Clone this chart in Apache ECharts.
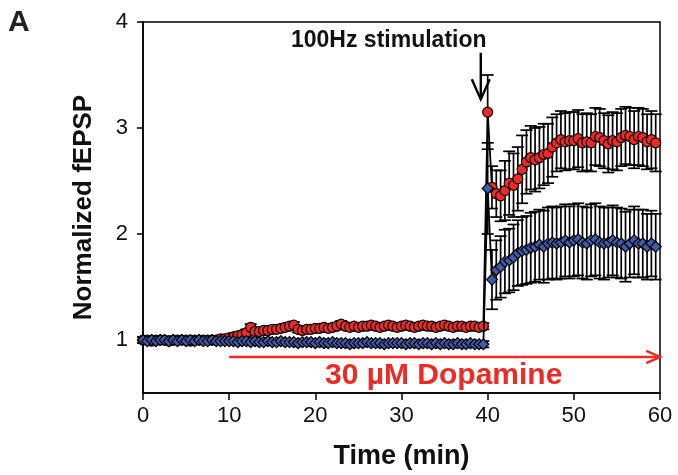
<!DOCTYPE html>
<html>
<head>
<meta charset="UTF-8">
<title>Normalized fEPSP</title>
<script src="https://cdn.jsdelivr.net/npm/echarts@6/dist/echarts.min.js"></script>
<style>
  html, body { margin: 0; padding: 0; background: #fff; }
  #chart { width: 678px; height: 475px; }
</style>
</head>
<body>
<div id="chart"></div>
<script>
// sampling: every 0.5 min, 0 .. 59.5
var step = 0.5;

// dopamine group (red circles)
var redMean = [
  1.00,1.00,0.99,1.00,1.00,1.00,0.99,1.00,1.00,1.00, 1.00,0.99,1.00,1.00,1.00,1.00,1.00,1.00,1.01,1.01,
  1.02,1.03,1.04,1.05,1.07,1.12,1.08,1.08,1.09,1.09, 1.10,1.10,1.11,1.12,1.13,1.14,1.10,1.09,1.10,1.10,
  1.11,1.11,1.12,1.11,1.12,1.13,1.15,1.13,1.12,1.13, 1.12,1.13,1.13,1.14,1.13,1.12,1.13,1.14,1.13,1.12,
  1.13,1.14,1.13,1.12,1.13,1.14,1.13,1.13,1.12,1.13, 1.14,1.13,1.12,1.13,1.13,1.12,1.13,1.13,1.12,1.13,
  3.15,
  2.44,2.38,2.36,2.41,2.48,2.46,2.52,2.61,2.68,2.72, 2.70,2.72,2.75,2.76,2.82,2.86,2.89,2.87,2.88,
  2.88,2.90,2.86,2.87,2.86,2.92,2.91,2.88,2.85,2.88, 2.87,2.91,2.93,2.92,2.89,2.92,2.91,2.87,2.89,2.86
];
var redSem = [
  0.03,0.03,0.03,0.03,0.03,0.03,0.03,0.03,0.03,0.03, 0.03,0.03,0.03,0.03,0.03,0.03,0.03,0.03,0.03,0.03,
  0.03,0.03,0.03,0.03,0.03,0.03,0.03,0.03,0.03,0.03, 0.03,0.03,0.03,0.03,0.03,0.03,0.03,0.03,0.03,0.03,
  0.03,0.03,0.03,0.03,0.03,0.03,0.03,0.03,0.03,0.03, 0.03,0.03,0.03,0.03,0.03,0.03,0.03,0.03,0.03,0.03,
  0.03,0.03,0.03,0.03,0.03,0.03,0.03,0.03,0.03,0.03, 0.03,0.03,0.03,0.03,0.03,0.03,0.03,0.03,0.03,0.03,
  0.35,
  0.20,0.22,0.24,0.28,0.30,0.30,0.30,0.32,0.30,0.30, 0.30,0.29,0.29,0.28,0.28,0.27,0.27,0.27,0.27,
  0.27,0.27,0.27,0.27,0.27,0.27,0.27,0.26,0.27,0.27, 0.27,0.27,0.27,0.27,0.27,0.27,0.27,0.26,0.27,0.27
];

// control group (blue diamonds)
var blueMean = [
  1.00,0.99,1.00,0.99,1.00,1.00,0.99,1.00,0.99,1.00, 0.99,1.00,0.99,1.00,0.99,0.99,1.00,0.99,0.99,0.99,
  0.99,0.99,0.98,0.99,0.99,0.98,0.99,0.98,0.98,0.99, 0.98,0.98,0.99,0.98,0.98,0.98,0.97,0.98,0.98,0.98,
  0.97,0.98,0.97,0.97,0.98,0.97,0.97,0.97,0.96,0.97, 0.97,0.97,0.98,0.97,0.97,0.97,0.96,0.97,0.97,0.97,
  0.97,0.96,0.97,0.97,0.96,0.97,0.97,0.96,0.97,0.96, 0.97,0.96,0.96,0.97,0.96,0.96,0.97,0.96,0.96,0.96,
  2.43,
  1.57,1.66,1.69,1.74,1.75,1.78,1.82,1.84,1.85,1.87, 1.88,1.90,1.88,1.91,1.92,1.91,1.92,1.94,1.92,
  1.94,1.95,1.92,1.91,1.94,1.95,1.92,1.91,1.92,1.94, 1.92,1.91,1.88,1.91,1.94,1.91,1.91,1.88,1.91,1.88
];
var blueSem = [
  0.03,0.03,0.03,0.03,0.03,0.03,0.03,0.03,0.03,0.03, 0.03,0.03,0.03,0.03,0.03,0.03,0.03,0.03,0.03,0.03,
  0.03,0.03,0.03,0.03,0.03,0.03,0.03,0.03,0.03,0.03, 0.03,0.03,0.03,0.03,0.03,0.03,0.03,0.03,0.03,0.03,
  0.03,0.03,0.03,0.03,0.03,0.03,0.03,0.03,0.03,0.03, 0.03,0.03,0.03,0.03,0.03,0.03,0.03,0.03,0.03,0.03,
  0.03,0.03,0.03,0.03,0.03,0.03,0.03,0.03,0.03,0.03, 0.03,0.03,0.03,0.03,0.03,0.03,0.03,0.03,0.03,0.03,
  0.43,
  0.28,0.28,0.29,0.30,0.30,0.31,0.31,0.32,0.32,0.33, 0.33,0.33,0.34,0.34,0.34,0.34,0.34,0.34,0.34,
  0.34,0.34,0.34,0.34,0.34,0.34,0.34,0.34,0.33,0.33, 0.33,0.33,0.33,0.32,0.32,0.32,0.32,0.31,0.31,0.31
];

var xTicks = [0, 10, 20, 30, 40, 50, 60];
var yTicks = [1, 2, 3, 4];

// annotation arrows (data coordinates)
var dopamineArrow = [[10, 0.84], [60, 0.84]];
var stimArrow = [[39.2, 3.71], [39.2, 3.27]];

var RED = '#ee2a24';
var BLUE = '#3d5ba8';

function points(mean) {
  return mean.map(function (v, i) { return [i * step, v]; });
}
function errPoints(mean, sem) {
  return mean.map(function (v, i) { return [i * step, v, sem[i]]; });
}

function renderErr(params, api) {
  var x = api.value(0), m = api.value(1), s = api.value(2);
  var top = api.coord([x, m + s]);
  var bot = api.coord([x, m - s]);
  var w = 6;
  var st = { stroke: '#000', lineWidth: 1.7 };
  return {
    type: 'group',
    children: [
      { type: 'line', shape: { x1: top[0], y1: top[1], x2: bot[0], y2: bot[1] }, style: st },
      { type: 'line', shape: { x1: top[0] - w, y1: top[1], x2: top[0] + w, y2: top[1] }, style: st },
      { type: 'line', shape: { x1: bot[0] - w, y1: bot[1], x2: bot[0] + w, y2: bot[1] }, style: st }
    ]
  };
}

function arrowRenderer(pts, color, width, head) {
  return function (params, api) {
    var a = api.coord(pts[0]);
    var b = api.coord(pts[1]);
    var ang = Math.atan2(b[1] - a[1], b[0] - a[0]);
    var h1 = [b[0] - head * Math.cos(ang - 0.42), b[1] - head * Math.sin(ang - 0.42)];
    var h2 = [b[0] - head * Math.cos(ang + 0.42), b[1] - head * Math.sin(ang + 0.42)];
    var st = { stroke: color, lineWidth: width, fill: null };
    return {
      type: 'group',
      children: [
        { type: 'line', shape: { x1: a[0], y1: a[1], x2: b[0], y2: b[1] }, style: st },
        { type: 'polyline', shape: { points: [h1, b, h2] }, style: st }
      ]
    };
  };
}

var chart = echarts.init(document.getElementById('chart'), null, { renderer: 'canvas' });

chart.setOption({
  backgroundColor: '#fff',
  animation: false,
  textStyle: { fontFamily: 'Liberation Sans, Arial, sans-serif' },
  grid: {
    left: 143, right: 18, top: 22, bottom: 82,
    show: true, borderColor: '#000', borderWidth: 1.5
  },
  xAxis: {
    type: 'value',
    min: 0, max: 60, interval: 10,
    splitLine: { show: false },
    axisLine: { lineStyle: { color: '#000', width: 1.5 } },
    axisTick: { show: true, length: 7, lineStyle: { color: '#000', width: 1.5 } },
    axisLabel: {
      color: '#111', fontSize: 22, margin: 12,
      customValues: xTicks
    },
    name: 'Time (min)',
    nameLocation: 'middle',
    nameGap: 50,
    nameTextStyle: { color: '#111', fontSize: 27, fontWeight: 'bold' }
  },
  yAxis: {
    type: 'value',
    min: 0.5, max: 4,
    splitLine: { show: false },
    axisLine: { show: true, lineStyle: { color: '#000', width: 1.5 } },
    axisTick: { show: true, length: 6, customValues: yTicks, lineStyle: { color: '#000', width: 1.5 } },
    axisLabel: { color: '#111', fontSize: 22, margin: 15, customValues: yTicks },
    name: 'Normalized fEPSP',
    nameLocation: 'middle',
    nameGap: 46,
    nameTextStyle: { color: '#111', fontSize: 26, fontWeight: 'bold' }
  },
  series: [
    {
      type: 'custom', name: 'redErr', z: 1,
      renderItem: renderErr,
      data: errPoints(redMean, redSem)
    },
    {
      type: 'custom', name: 'blueErr', z: 1,
      renderItem: renderErr,
      data: errPoints(blueMean, blueSem)
    },
    {
      type: 'line', name: 'Dopamine', z: 3,
      data: points(redMean),
      symbol: 'circle', symbolSize: 10, showAllSymbol: true,
      lineStyle: { color: '#000', width: 1.8 },
      itemStyle: { color: RED, borderColor: '#000', borderWidth: 1.2 }
    },
    {
      type: 'line', name: 'Control', z: 4,
      data: points(blueMean),
      symbol: 'diamond', symbolSize: [11, 11], showAllSymbol: true,
      lineStyle: { color: '#000', width: 1.8 },
      itemStyle: { color: BLUE, borderColor: '#000', borderWidth: 1.2 }
    },
    {
      type: 'custom', name: 'dopamineArrow', z: 5, silent: true,
      renderItem: arrowRenderer(dopamineArrow, RED, 2.5, 15),
      data: [0]
    },
    {
      type: 'custom', name: 'stimArrow', z: 5, silent: true,
      renderItem: arrowRenderer(stimArrow, '#000', 2.4, 22),
      data: [0]
    }
  ],
  graphic: [
    { type: 'text', left: 8, top: 8, style: { text: 'A', font: 'bold 30px Liberation Sans, Arial', fill: '#222' } },
    { type: 'text', left: 291, top: 29, style: { text: '100Hz stimulation', font: 'bold 23px Liberation Sans, Arial', fill: '#111' } },
    { type: 'text', left: 325, top: 361, style: { text: '30 \u00b5M Dopamine', font: 'bold 30px Liberation Sans, Arial', fill: RED } }
  ]
});
</script>
</body>
</html>
